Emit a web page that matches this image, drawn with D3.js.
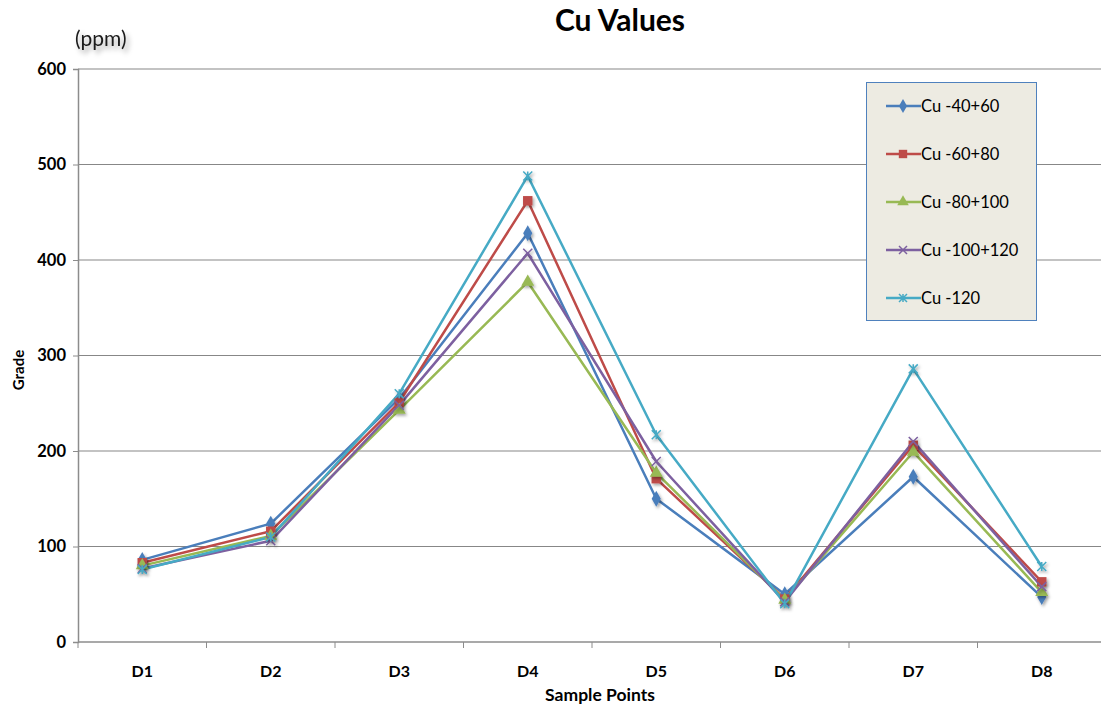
<!DOCTYPE html>
<html>
<head>
<meta charset="utf-8">
<script src="https://cdn.jsdelivr.net/npm/d3@7"></script>
<style>
  html, body { margin: 0; padding: 0; background: #fff; }
  svg { display: block; font-family: Lato, "Open Sans", "Liberation Sans", sans-serif; }
</style>
</head>
<body>
<svg id="chart" width="1101" height="708"></svg>
<script>
// Sample points along the x axis
const samplePoints = ["D1", "D2", "D3", "D4", "D5", "D6", "D7", "D8"];

// Cu grade (ppm) per size fraction
const cu40_60   = [86, 124, 255, 428, 150, 50, 173, 47];
const cu60_80   = [83, 116, 251, 462, 171, 45, 206, 63];
const cu80_100  = [80, 111, 243, 377, 177, 44, 199, 52];
const cu100_120 = [77, 106, 248, 407, 189, 42, 210, 58];
const cu120     = [76, 110, 260, 488, 217, 40, 286, 79];

const seriesNames = ["Cu -40+60", "Cu -60+80", "Cu -80+100", "Cu -100+120", "Cu -120"];
const yTicks = [0, 100, 200, 300, 400, 500, 600];

const series = [
  { name: seriesNames[0], values: cu40_60,   color: "#4A7EBB", marker: "diamond" },
  { name: seriesNames[1], values: cu60_80,   color: "#BE4B48", marker: "square" },
  { name: seriesNames[2], values: cu80_100,  color: "#98B954", marker: "triangle" },
  { name: seriesNames[3], values: cu100_120, color: "#7D60A0", marker: "cross" },
  { name: seriesNames[4], values: cu120,     color: "#46AAC5", marker: "star" }
];

const svg = d3.select("#chart");
const plotLeft = 78, plotRight = 1106, plotTop = 69, plotBottom = 642;

const x = d3.scaleBand().domain(samplePoints).range([plotLeft, plotRight]).paddingInner(0).paddingOuter(0);
const y = d3.scaleLinear().domain([0, 600]).range([plotBottom, plotTop]);

// soft shadow for markers and the unit label
const defs = svg.append("defs");
const f = defs.append("filter").attr("id", "shadow").attr("x", "-50%").attr("y", "-50%").attr("width", "200%").attr("height", "200%");
f.append("feDropShadow").attr("dx", 1.5).attr("dy", 2).attr("stdDeviation", 1.5).attr("flood-color", "#000").attr("flood-opacity", 0.35);
const f2 = defs.append("filter").attr("id", "textShadow").attr("x", "-30%").attr("y", "-50%").attr("width", "160%").attr("height", "200%");
f2.append("feDropShadow").attr("dx", 3).attr("dy", 4).attr("stdDeviation", 2.5).attr("flood-color", "#000").attr("flood-opacity", 0.35);

// gridlines
svg.append("g").selectAll("line")
  .data(yTicks.filter(d => d > 0))
  .join("line")
  .attr("x1", plotLeft).attr("x2", plotRight)
  .attr("y1", d => y(d)).attr("y2", d => y(d))
  .attr("stroke", "#878787").attr("stroke-width", 1);

// y axis
const yAxis = svg.append("g")
  .attr("transform", `translate(${plotLeft},0)`)
  .call(d3.axisLeft(y).tickValues(yTicks).tickSize(5).tickPadding(7));
yAxis.select(".domain").attr("stroke", "#8c8c8c").attr("stroke-width", 1.5);
yAxis.selectAll(".tick line").attr("stroke", "#8c8c8c");
yAxis.selectAll(".tick text").attr("font-size", 16.5).attr("font-weight", "bold").attr("fill", "#000")
  .attr("font-family", "Lato, sans-serif");

// x axis: ticks at category boundaries
const xAxisG = svg.append("g").attr("transform", `translate(0,${plotBottom})`);
xAxisG.append("line").attr("x1", plotLeft).attr("x2", plotRight).attr("y1", 0).attr("y2", 0)
  .attr("stroke", "#8c8c8c").attr("stroke-width", 1.5);
const boundaries = samplePoints.map(d => x(d)).concat([plotRight]);
xAxisG.selectAll("line.tk").data(boundaries).join("line").attr("class", "tk")
  .attr("x1", d => d).attr("x2", d => d).attr("y1", 0).attr("y2", 6)
  .attr("stroke", "#8c8c8c").attr("stroke-width", 1);
xAxisG.selectAll("text").data(samplePoints).join("text")
  .attr("x", d => x(d) + x.bandwidth() / 2).attr("y", 35)
  .attr("text-anchor", "middle").attr("font-size", 16).attr("font-weight", "bold").text(d => d);

// titles
svg.append("text").attr("x", 620).attr("y", 31).attr("text-anchor", "middle")
  .attr("font-size", 30).attr("font-weight", "bold").text("Cu Values");
svg.append("text").attr("x", 75).attr("y", 46).attr("font-size", 21)
  .attr("fill", "#1a1a1a").attr("filter", "url(#textShadow)").text("(ppm)");
svg.append("text").attr("transform", "translate(24,370) rotate(-90)").attr("text-anchor", "middle")
  .attr("font-size", 15).attr("font-weight", "bold").text("Grade");
svg.append("text").attr("x", 600).attr("y", 701).attr("text-anchor", "middle")
  .attr("font-size", 17.5).attr("font-weight", "bold").text("Sample Points");

// marker drawing
function drawMarker(g, type, color, size) {
  const s = size;
  if (type === "diamond") {
    g.append("path").attr("d", d3.symbol(d3.symbolDiamond, s * s * 0.9)()).attr("fill", color);
  } else if (type === "square") {
    g.append("path").attr("d", d3.symbol(d3.symbolSquare, s * s * 1.1)()).attr("fill", color);
  } else if (type === "triangle") {
    g.append("path").attr("d", d3.symbol(d3.symbolTriangle, s * s * 0.9)()).attr("fill", color);
  } else if (type === "cross") {
    const h = s / 2;
    g.append("path").attr("d", `M${-h},${-h}L${h},${h}M${-h},${h}L${h},${-h}`)
      .attr("stroke", color).attr("stroke-width", 1.5).attr("fill", "none");
  } else if (type === "star") {
    const h = s / 2;
    g.append("path").attr("d", `M${-h},${-h}L${h},${h}M${-h},${h}L${h},${-h}M0,${-h}L0,${h}`)
      .attr("stroke", color).attr("stroke-width", 1.5).attr("fill", "none");
  }
}

const line = d3.line().x((d, i) => x(samplePoints[i]) + x.bandwidth() / 2).y(d => y(d));

const plot = svg.append("g");
series.forEach(s => {
  plot.append("path").datum(s.values).attr("d", line)
    .attr("fill", "none").attr("stroke", s.color).attr("stroke-width", 2.5)
    .attr("stroke-linejoin", "round");
});
series.forEach(s => {
  s.values.forEach((v, i) => {
    const g = plot.append("g")
      .attr("transform", `translate(${x(samplePoints[i]) + x.bandwidth() / 2},${y(v)})`)
      .attr("filter", "url(#shadow)");
    drawMarker(g, s.marker, s.color, 9);
  });
});

// legend
const lg = svg.append("g");
lg.append("rect").attr("x", 866.5).attr("y", 82.5).attr("width", 170).attr("height", 238)
  .attr("fill", "#EDEBE2").attr("stroke", "#4F81BD").attr("stroke-width", 1);
series.forEach((s, i) => {
  const cy = 106 + i * 48;
  lg.append("line").attr("x1", 886).attr("x2", 921).attr("y1", cy).attr("y2", cy)
    .attr("stroke", s.color).attr("stroke-width", 2.5);
  const mg = lg.append("g").attr("transform", `translate(903,${cy})`);
  drawMarker(mg, s.marker, s.color, 8);
  lg.append("text").attr("x", 921).attr("y", cy + 6).attr("font-size", 16.5).attr("fill", "#000").text(s.name);
});
</script>
</body>
</html>
